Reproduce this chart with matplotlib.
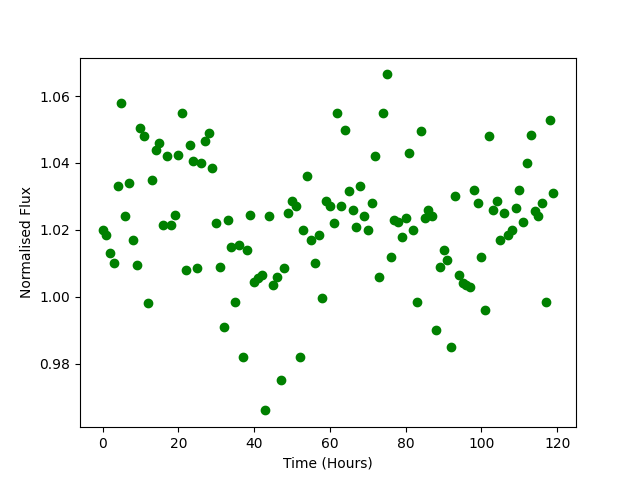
import numpy as np
import matplotlib
matplotlib.use("Agg")
import matplotlib.pyplot as plt

hours = list(range(120))
flux = [
    1.020, 1.0185, 1.013, 1.010, 1.033, 1.058, 1.024, 1.034, 1.017, 1.0095,
    1.0505, 1.048, 0.998, 1.035, 1.044, 1.046, 1.0215, 1.042, 1.0215, 1.0245,
    1.0425, 1.055, 1.008, 1.0455, 1.0405, 1.0085, 1.040, 1.0465, 1.049, 1.0385,
    1.022, 1.009, 0.991, 1.023, 1.015, 0.9985, 1.0155, 0.982, 1.014, 1.0245,
    1.0045, 1.0055, 1.0065, 0.966, 1.024, 1.0035, 1.006, 0.975, 1.0085, 1.025,
    1.0285, 1.027, 0.982, 1.020, 1.036, 1.017, 1.010, 1.0185, 0.9995, 1.0285,
    1.027, 1.022, 1.055, 1.027, 1.050, 1.0315, 1.026, 1.021, 1.033, 1.024,
    1.020, 1.028, 1.042, 1.006, 1.055, 1.0665, 1.012, 1.023, 1.0225, 1.018,
    1.0235, 1.043, 1.020, 0.9985, 1.0495, 1.0235, 1.026, 1.024, 0.990, 1.009,
    1.014, 1.011, 0.985, 1.030, 1.0065, 1.004, 1.0035, 1.003, 1.032, 1.028,
    1.012, 0.996, 1.048, 1.026, 1.0285, 1.017, 1.025, 1.0185, 1.020, 1.0265,
    1.032, 1.0225, 1.040, 1.0485, 1.0255, 1.024, 1.028, 0.9985, 1.053, 1.031,
]

fig, ax = plt.subplots(figsize=(6.4, 4.8), dpi=100)
ax.plot(hours, flux, 'o', color='green')
ax.set_xlabel('Time (Hours)')
ax.set_ylabel('Normalised Flux')
fig.savefig('out.png')
